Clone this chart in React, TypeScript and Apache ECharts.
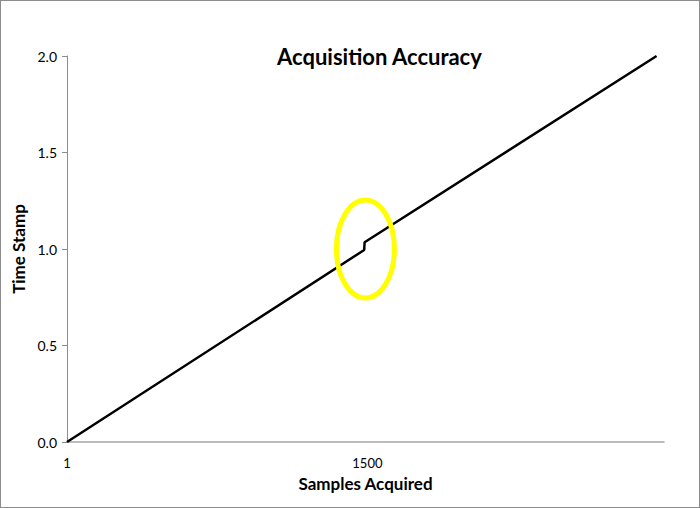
import React, { useEffect, useRef } from 'react';
import * as echarts from 'echarts';

const FONT = 'Lato, "Open Sans", sans-serif';

// samples acquired vs. time stamp, with the small jump near sample 1500
const SAMPLES = [1, 1484, 1486, 2943];
const TIME_STAMPS = [0, 0.995, 1.035, 2.0];
const X_LABELS = [1, 1500];
const Y_TICKS = [0, 0.5, 1.0, 1.5, 2.0];
// highlighted spot (data coords) and ellipse radii in px
const MARK = [1490, 1.0];

const App: React.FC = () => {
  const divEL = useRef<HTMLDivElement>(null);

  useEffect(() => {
    document.body.style.margin = '0';
    const instance = echarts.init(divEL.current as any, null, { renderer: 'svg' });

    const option: echarts.EChartsOption = {
      animation: false,
      title: {
        text: 'Acquisition Accuracy',
        left: 271,
        top: 39,
        textStyle: { fontFamily: FONT, fontSize: 22, fontWeight: 'bold', color: '#000' },
      },
      grid: { left: 66, right: 35, top: 55, bottom: 65 },
      xAxis: {
        type: 'value',
        min: 1,
        max: 2980,
        name: 'Samples Acquired',
        nameLocation: 'middle',
        nameGap: 33,
        nameTextStyle: { fontFamily: FONT, fontSize: 17, fontWeight: 'bold', color: '#000' },
        splitLine: { show: false },
        axisLine: { lineStyle: { color: '#a6a6a6', width: 1.5 } },
        axisTick: { show: false },
        axisLabel: {
          customValues: X_LABELS,
          formatter: (v: number) => String(v),
          fontFamily: FONT,
          fontSize: 13,
          color: '#000',
          margin: 14,
        },
      },
      yAxis: {
        type: 'value',
        min: 0,
        max: 2,
        interval: 0.5,
        name: 'Time Stamp',
        nameLocation: 'middle',
        nameGap: 40,
        nameTextStyle: { fontFamily: FONT, fontSize: 17, fontWeight: 'bold', color: '#000' },
        splitLine: { show: false },
        axisLine: { show: true, lineStyle: { color: '#8c8c8c' } },
        axisTick: { show: true, inside: false, length: 5, lineStyle: { color: '#8c8c8c' } },
        axisLabel: {
          customValues: Y_TICKS,
          formatter: (v: number) => v.toFixed(1),
          fontFamily: FONT,
          fontSize: 14,
          color: '#000',
          margin: 10,
        },
      },
      series: [
        {
          type: 'line',
          symbol: 'none',
          data: SAMPLES.map((s, i) => [s, TIME_STAMPS[i]]),
          lineStyle: { color: '#000', width: 2.5 },
        },
      ],
    };
    instance.setOption(option);

    const [cx, cy] = instance.convertToPixel({ gridIndex: 0 }, MARK) as number[];
    instance.setOption({
      graphic: [
        {
          type: 'ellipse',
          shape: { cx, cy, rx: 29, ry: 49 },
          style: { fill: 'none', stroke: '#ffff00', lineWidth: 5 },
          z: 10,
        },
      ],
    });

    return () => {
      instance.dispose();
    };
  }, []);

  return (
    <div
      ref={divEL}
      style={{ width: 700, height: 508, border: '1px solid #8c8c8c', boxSizing: 'border-box' }}
    ></div>
  );
};

export default App;
